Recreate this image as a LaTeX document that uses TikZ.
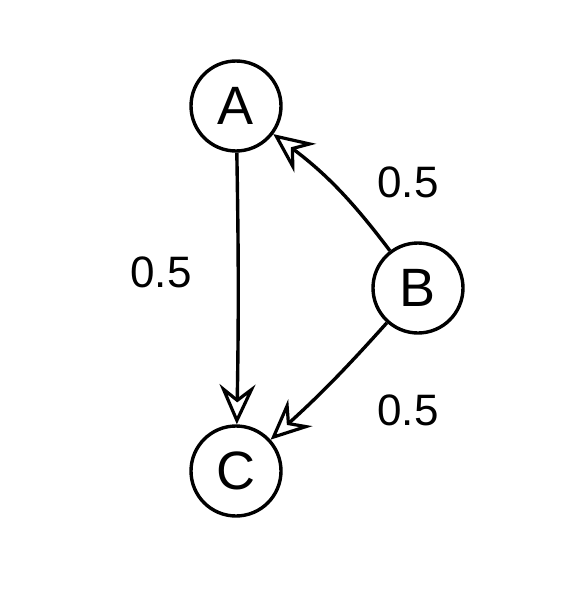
\documentclass[tikz,border=0pt]{standalone}
\usepackage{fontspec}
\setmainfont{Liberation Sans}
\usetikzlibrary{arrows.meta}
\begin{document}
\begin{tikzpicture}[x=1pt,y=-1pt,
  vertex/.style={circle,draw,line width=3.4pt,minimum size=90pt,inner sep=0pt,font=\fontsize{54}{54}\selectfont},
  lbl/.style={font=\fontsize{44}{44}\selectfont,inner sep=0pt},
  edge/.style={line width=3.4pt,-{Stealth[open,length=40pt,width=36pt,inset=14pt,line width=3.2pt]}}]
\useasboundingbox (0,0) rectangle (582,610);
\node[vertex] (A) at (236,106) {A};
\node[vertex] (B) at (418,288) {B};
\node[vertex] (C) at (236,471) {C};
\draw[edge] (A) to[bend left=1] (C);
\draw[edge] (B) to[bend right=8] (A);
\draw[edge] (B) to[bend left=3] (C);
\node[lbl] (l1) at (408,182) {0.5};
\node[lbl] (l2) at (161,272) {0.5};
\node[lbl] (l3) at (408,410) {0.5};
\end{tikzpicture}
\end{document}
